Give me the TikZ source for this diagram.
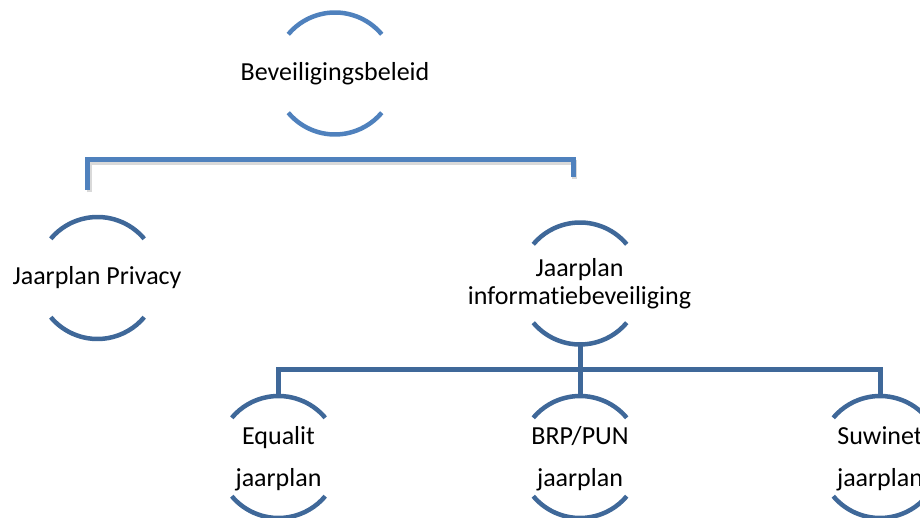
\documentclass[tikz,border=0pt]{standalone}
\usepackage{fontspec}
\setmainfont{Carlito}[Ligatures={NoCommon,NoRare,NoContextual},Contextuals=NoAlternate,RawFeature={-liga;-clig;-calt;-dlig}]
\usetikzlibrary{calc}
\definecolor{lightblue}{HTML}{4F81BD}
\definecolor{darkblue}{HTML}{3F6899}
\tikzset{
  lbl/.style={anchor=base, inner sep=0pt, font=\fontsize{26}{28.3}\selectfont, text=black},
  arcone/.style={draw=lightblue, line width=4.5pt},
  arctwo/.style={draw=darkblue, line width=4.5pt},
  connone/.style={draw=lightblue, line width=5pt},
  connshadow/.style={draw=black!15, line width=5pt},
  conntwo/.style={draw=darkblue, line width=5pt},
}
\newcommand{\ringarcs}[2]{%
  \draw[#2] ($(#1)+(40:61)$) arc[start angle=40, end angle=140, radius=61];
  \draw[#2] ($(#1)+(220:61)$) arc[start angle=220, end angle=320, radius=61];
}
\begin{document}
\begin{tikzpicture}[x=1pt,y=1pt]
\useasboundingbox (0,0) rectangle (920,518);
% circle centres
\coordinate (T) at (335,444.5);
\coordinate (P) at (97.5,240);
\coordinate (I) at (580,234.5);
\coordinate (E) at (278.5,61);
\coordinate (B) at (580,61);
\coordinate (S) at (880,61);
% top connector ends
\coordinate (tl) at (87.5,328);
\coordinate (tr) at (573,341);
\coordinate (tbar) at (0,358);
% top connector with shadow
\draw[connshadow] ($(tl)+(1.5,-2.5)$) |- ($(tbar -| tr)+(1.5,-2.5)$) -- ($(tr)+(1.5,-2.5)$);
\draw[connone] (tl) |- (tbar -| tr) -- (tr);
% lower connectors
\coordinate (lbar) at (0,148.5);
\draw[conntwo] ($(I)+(0,-63)$) -- ($(B)+(0,63)$);
\draw[conntwo] ($(E)+(0,63)$) |- (lbar -| S) -- ($(S)+(0,63)$);
% rings
\ringarcs{T}{arcone}
\ringarcs{P}{arctwo}
\ringarcs{I}{arctwo}
\ringarcs{E}{arctwo}
\ringarcs{B}{arctwo}
\ringarcs{S}{arctwo}
% labels
\node[lbl] (tT) at (335,437) {Beveiligingsbeleid};
\node[lbl] (tP) at (97,233) {Jaarplan Privacy};
\node[lbl] (tI1) at (579.5,241.3) {Jaarplan};
\node[lbl] (tI2) at (579.5,213) {informat\kern0pt iebeveiliging};
\node[lbl] (tE1) at (278.5,73) {Equalit};
\node[lbl] (tE2) at (278.5,31.3) {jaarplan};
\node[lbl] (tB1) at (580,73) {BRP/PUN};
\node[lbl] (tB2) at (580,31.3) {jaarplan};
\node[lbl] (tS1) at (880,73) {Suwinet};
\node[lbl] (tS2) at (880,31.3) {jaarplan};
\end{tikzpicture}
\end{document}
